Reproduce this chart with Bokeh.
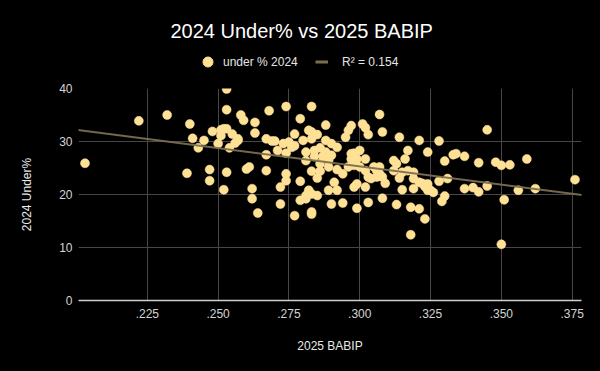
import numpy as np
from bokeh.plotting import figure
from bokeh.layouts import column
from bokeh.models import (Range1d, FixedTicker, CustomJSTickFormatter, Legend, LegendItem,
                          Slope, ColumnDataSource, GlobalInlineStyleSheet)
from bokeh.embed import file_html
from bokeh.resources import INLINE

# ---- data ----
babip_2025 = [
    0.203, 0.222, 0.232, 0.240, 0.239, 0.241, 0.243, 0.245, 0.247, 0.247, 0.248, 0.250,
    0.252, 0.253, 0.253, 0.251, 0.252, 0.253, 0.251, 0.253, 0.254, 0.255, 0.256, 0.257,
    0.257, 0.258, 0.259, 0.260, 0.261, 0.262, 0.262, 0.263, 0.263, 0.264,
    0.268, 0.274, 0.283, 0.279, 0.288, 0.267, 0.269, 0.270, 0.267, 0.271, 0.273, 0.275,
    0.276, 0.277, 0.274, 0.277, 0.280, 0.282, 0.283, 0.285, 0.283, 0.288, 0.290, 0.292,
    0.281, 0.284, 0.286, 0.281, 0.284, 0.287, 0.288, 0.290, 0.286, 0.289, 0.289, 0.292,
    0.283, 0.286, 0.285, 0.279, 0.291, 0.289, 0.292, 0.282, 0.283, 0.285, 0.281, 0.279,
    0.281, 0.272, 0.274, 0.274, 0.267, 0.272, 0.277, 0.283, 0.283, 0.290, 0.294, 0.299,
    0.303, 0.308, 0.313, 0.318, 0.318, 0.321, 0.294, 0.297, 0.296, 0.295, 0.301, 0.302,
    0.303, 0.307, 0.308, 0.314, 0.321, 0.317, 0.297, 0.298, 0.300, 0.299, 0.297, 0.302,
    0.298, 0.300, 0.302, 0.296, 0.298, 0.299, 0.302, 0.303, 0.305, 0.307, 0.306, 0.307,
    0.308, 0.309, 0.306, 0.304, 0.312, 0.313, 0.316, 0.312, 0.314, 0.315, 0.317, 0.319,
    0.319, 0.315, 0.319, 0.321,
    0.323, 0.328, 0.324, 0.330, 0.333, 0.334, 0.337, 0.342, 0.345, 0.348, 0.350, 0.353,
    0.359, 0.376, 0.362, 0.356, 0.351, 0.350, 0.345, 0.342, 0.340, 0.337, 0.331, 0.328,
    0.330, 0.329, 0.322, 0.323, 0.324, 0.324, 0.326, 0.325, 0.324, 0.323,
]
under_pct_2024 = [
    25.9, 33.9, 35.0, 33.3, 24.0, 30.6, 28.8, 30.2, 24.7, 22.6, 31.9, 29.6,
    20.9, 39.9, 36.0, 32.2, 32.4, 32.4, 31.1, 24.2, 28.8, 31.4, 29.7, 30.5,
    30.2, 35.0, 34.0, 24.8, 25.2, 21.1, 19.2, 33.6, 31.6, 16.5,
    35.8, 36.6, 36.6, 34.3, 33.1, 30.5, 30.1, 30.1, 27.5, 28.3, 29.6, 29.9,
    28.9, 29.2, 27.8, 31.4, 30.2, 32.1, 31.8, 31.3, 30.5, 30.2, 29.6, 28.9,
    28.0, 28.3, 28.8, 26.4, 27.2, 27.2, 28.0, 27.4, 25.8, 26.4, 25.2, 24.7,
    24.4, 24.4, 23.1, 22.5, 22.3, 20.8, 20.8, 20.8, 20.1, 19.8, 19.8, 18.9,
    19.2, 21.4, 23.9, 22.6, 24.5, 18.2, 16.0, 16.7, 16.3, 18.2, 18.4, 17.4,
    18.5, 19.3, 18.1, 17.6, 12.4, 17.3, 23.9, 33.0, 32.1, 30.8, 33.3, 32.6,
    31.3, 35.1, 31.8, 30.8, 30.2, 28.3, 27.7, 27.8, 28.3, 26.7, 26.7, 26.7,
    25.5, 25.2, 24.5, 25.2, 21.4, 22.0, 21.4, 23.3, 25.2, 25.2, 24.5, 23.9,
    23.3, 22.1, 23.3, 23.0, 26.4, 25.8, 26.7, 24.5, 23.1, 24.2, 24.5, 24.2,
    23.0, 20.9, 21.1, 22.3,
    15.4, 30.1, 28.0, 26.3, 27.5, 27.7, 27.2, 26.0, 32.2, 26.1, 25.5, 25.6,
    26.7, 22.8, 21.1, 20.8, 19.0, 10.6, 21.6, 20.5, 21.3, 21.1, 23.0, 22.5,
    19.7, 18.7, 22.1, 21.9, 21.1, 22.0, 20.4, 20.8, 20.8, 21.5,
]
x_ticks = [0.225, 0.250, 0.275, 0.300, 0.325, 0.350, 0.375]
y_ticks = [0, 10, 20, 30, 40]
series_label = "under % 2024"
trend_label = "R\u00b2 = 0.154"
title_text = "2024 Under% vs 2025 BABIP"
x_title = "2025 BABIP"
y_title = "2024 Under%"

FONT = "Liberation Sans"
DOT = "#ffe196"
TREND = "#7a6f50"
BG = "#000000"

# linear trend fitted from the data
slope_v, icpt_v = np.polyfit(babip_2025, under_pct_2024, 1)
src = ColumnDataSource(dict(x=babip_2025, y=under_pct_2024))

# ---------- header: title + legend ----------
head = figure(width=584, height=80, output_backend="svg", toolbar_location=None,
              x_range=Range1d(10, 11), y_range=Range1d(100, 101),
              x_axis_type=None, y_axis_type=None,
              min_border_left=0, min_border_right=0, min_border_top=42, min_border_bottom=0,
              background_fill_color=BG, border_fill_color=BG, outline_line_color=None)
head.grid.visible = False
head.title.text = title_text
head.title.text_font = FONT
head.title.text_font_size = "20px"
head.title.text_font_style = "normal"
head.title.text_color = "#ffffff"
head.title.align = "left"
head.title.offset = 92
head.title.standoff = 2

# legend-only renderers (their data lies outside this header's ranges)
h_pts = head.scatter("x", "y", source=src, size=9, fill_color=DOT, line_color=DOT)
h_line = head.line("x", "y", source=src, line_color=TREND, line_width=3)

leg_kw = dict(orientation="horizontal", padding=0, margin=0, spacing=0,
              background_fill_alpha=0, border_line_alpha=0, glyph_height=25, label_height=25,
              label_text_font=FONT, label_text_font_size="12px", label_text_color="#e6e6e6")
leg1 = Legend(items=[LegendItem(label=series_label, renderers=[h_pts])],
              location=(117, 6), glyph_width=25, label_standoff=3, **leg_kw)
leg2 = Legend(items=[LegendItem(label=trend_label, renderers=[h_line])],
              location=(237, 6), glyph_width=13, label_standoff=14, **leg_kw)
head.add_layout(leg1)
head.add_layout(leg2)

# ---------- main chart ----------
fig = figure(width=584, height=275, output_backend="svg", toolbar_location=None,
             x_range=Range1d(0.2007, 0.3783), y_range=Range1d(0, 40),
             min_border_left=78, min_border_right=3, min_border_top=8, min_border_bottom=55,
             background_fill_color=BG, border_fill_color=BG, outline_line_color=None)

pts = fig.scatter("x", "y", source=src, size=9, fill_color=DOT, line_color=DOT,
                  line_width=0.5)
fig.add_layout(Slope(gradient=slope_v, y_intercept=icpt_v, line_color=TREND, line_width=2,
                     line_alpha=0.95))

for ax in (fig.xaxis[0], fig.yaxis[0]):
    ax.major_tick_out = 0
    ax.major_tick_in = 0
    ax.minor_tick_out = 0
    ax.minor_tick_in = 0
    ax.major_label_text_font = FONT
    ax.major_label_text_font_size = "12px"
    ax.major_label_text_color = "#d4d4d4"
    ax.axis_label_text_font = FONT
    ax.axis_label_text_font_size = "12px"
    ax.axis_label_text_font_style = "normal"
    ax.axis_label_text_color = "#e8e8e8"

fig.xaxis.major_label_standoff = 8
fig.yaxis.major_label_standoff = 6
fig.xaxis.ticker = FixedTicker(ticks=x_ticks)
fig.yaxis.ticker = FixedTicker(ticks=y_ticks)
fig.xaxis.formatter = CustomJSTickFormatter(code="return tick.toFixed(3).replace(/^0/, '');")
fig.xaxis.axis_label = x_title
fig.yaxis.axis_label = y_title
fig.xaxis.axis_line_color = "#cfcfcf"
fig.xaxis.axis_line_width = 1.5
fig.yaxis.axis_line_color = None
fig.xaxis.axis_label_standoff = 18
fig.yaxis.axis_label_standoff = 22

fig.xgrid.ticker = FixedTicker(ticks=x_ticks)
fig.ygrid.ticker = FixedTicker(ticks=y_ticks)
fig.grid.grid_line_color = "#474747"
fig.grid.grid_line_width = 1

p = column(head, fig, spacing=0)
p.stylesheets = [GlobalInlineStyleSheet(css="body{background:#000000;}")]

open("out.html", "w").write(file_html(p, INLINE))
